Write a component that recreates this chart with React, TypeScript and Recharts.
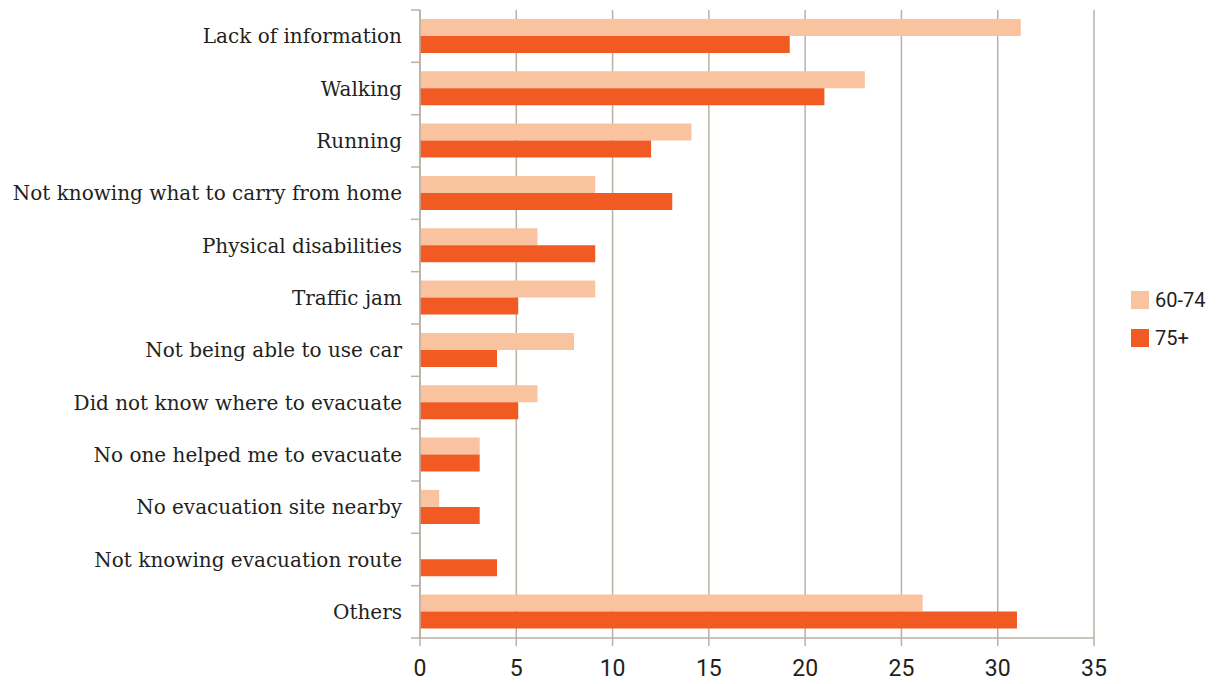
import React from 'react';
import { BarChart, Bar, XAxis, YAxis, CartesianGrid } from 'recharts';

const categories = [
  'Lack of information',
  'Walking',
  'Running',
  'Not knowing what to carry from home',
  'Physical disabilities',
  'Traffic jam',
  'Not being able to use car',
  'Did not know where to evacuate',
  'No one helped me to evacuate',
  'No evacuation site nearby',
  'Not knowing evacuation route',
  'Others',
];
const age60to74 = [31.2, 23.1, 14.1, 9.1, 6.1, 9.1, 8.0, 6.1, 3.1, 1.0, 0, 26.1];
const age75plus = [19.2, 21.0, 12.0, 13.1, 9.1, 5.1, 4.0, 5.1, 3.1, 3.1, 4.0, 31.0];
const xTicks = [0, 5, 10, 15, 20, 25, 30, 35];

const LIGHT = '#fac3a0';
const DARK = '#f15a22';
const GRID = '#b9b1a5';

const data = categories.map((name, i) => ({ name, a: age60to74[i], b: age75plus[i] }));

const CatTick = (props: any) => {
  const { x, y, payload, index } = props;
  const off = payload.offset || 0;
  const last = index === categories.length - 1;
  return (
    <g>
      <line x1={x + 9} x2={x + 18} y1={y - off} y2={y - off} stroke={GRID} strokeWidth={1.5} />
      {last && <line x1={x + 9} x2={x + 18} y1={y + off} y2={y + off} stroke={GRID} strokeWidth={1.5} />}
      <text x={x} y={y} dy="0.35em" textAnchor="end" fontFamily="'DejaVu Serif', serif" fontSize={20} fill="#231f20">
        {payload.value}
      </text>
    </g>
  );
};

const App = () => {
  return (
    <div style={{ position: 'absolute', left: 0, top: 0, width: 1220, height: 684, background: '#fff' }}>
      <BarChart
        width={1220}
        height={684}
        data={data}
        layout="vertical"
        margin={{ top: 10, right: 126, bottom: 0, left: 0 }}
        barCategoryGap="17%"
        barGap={0}
      >
        <CartesianGrid horizontal={false} stroke={GRID} strokeWidth={1.5} />
        <XAxis
          type="number"
          domain={[0, 35]}
          ticks={xTicks}
          interval={0}
          axisLine={{ stroke: GRID, strokeWidth: 1.5 }}
          tickLine={{ stroke: GRID, strokeWidth: 1.5 }}
          tickSize={8}
          tickMargin={14}
          height={46}
          tick={{ fontFamily: "Roboto, sans-serif", fontSize: 23, fill: '#231f20' }}
        />
        <XAxis
          xAxisId="top"
          orientation="top"
          type="number"
          domain={[0, 35]}
          height={0}
          tick={false}
          tickLine={false}
          axisLine={{ stroke: GRID, strokeWidth: 1.5 }}
        />
        <YAxis
          type="category"
          dataKey="name"
          width={420}
          axisLine={{ stroke: GRID, strokeWidth: 1.5 }}
          tickLine={false}
          tickSize={0}
          tick={<CatTick />}
          tickMargin={18}
          interval={0}
        />
        <Bar dataKey="a" name="60-74" fill={LIGHT} isAnimationActive={false} />
        <Bar dataKey="b" name="75+" fill={DARK} isAnimationActive={false} />
      </BarChart>
      <div
        style={{
          position: 'absolute',
          left: 1131,
          top: 281,
          fontFamily: "Roboto, sans-serif",
          fontSize: 20,
          color: '#231f20',
        }}
      >
        {[
          { label: '60-74', color: LIGHT },
          { label: '75+', color: DARK },
        ].map((it) => (
          <div key={it.label} style={{ display: 'flex', alignItems: 'center', height: 38 }}>
            <span style={{ display: 'inline-block', width: 18, height: 18, background: it.color, marginRight: 6 }} />
            {it.label}
          </div>
        ))}
      </div>
    </div>
  );
};

export default App;
